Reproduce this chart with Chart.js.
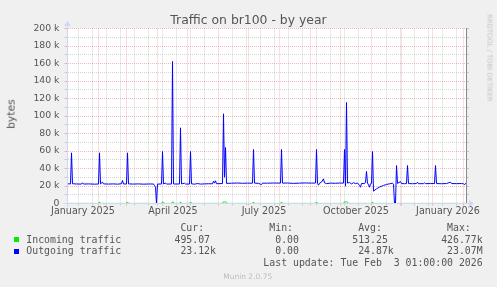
<!DOCTYPE html>
<html><head><meta charset="utf-8">
<script src="https://cdn.jsdelivr.net/npm/chart.js@4.4.1/dist/chart.umd.min.js"></script>
<style>
html,body{margin:0;padding:0;background:#f0f0f0;}
#wrap{position:relative;width:497px;height:287px;overflow:hidden;background:#f0f0f0;}
canvas{position:absolute;left:0;top:0;}
.t{position:absolute;white-space:pre;line-height:1;}
.sans{font-family:'DejaVu Sans',sans-serif;}
.mono{font-family:'DejaVu Sans Mono',monospace;font-size:9.85px;color:#555;left:26.3px;}
.box{position:absolute;width:5px;height:5px;left:14px;}
</style></head><body>
<div id="wrap">
<canvas id="c" width="497" height="287"></canvas>
<div class="t sans" id="title" style="left:248.5px;top:13.5px;font-size:12.4px;color:#555;transform:translateX(-50%);">Traffic on br100 - by year</div>
<div class="t sans" id="ytitle" style="left:11.5px;top:114px;font-size:10.8px;color:#555;transform:translate(-50%,-50%) rotate(-90deg);">bytes</div>
<div class="t sans" id="wm" style="left:488.5px;top:58.3px;font-size:6.8px;color:#c4c4c4;transform:translate(-50%,-50%) rotate(90deg);">RRDTOOL / TOBI OETIKER</div>
<div class="t mono" id="lh" style="top:223.4px;"></div>
<div class="box" style="top:237px;background:#00ee00;"></div>
<div class="t mono" id="l0" style="top:235px;"></div>
<div class="box" style="top:249px;background:#0000ff;"></div>
<div class="t mono" id="l1" style="top:246.4px;"></div>
<div class="t mono" id="lu" style="top:258.4px;"></div>
<div class="t sans" id="munin" style="left:247.7px;top:273px;font-size:7.5px;color:#bdbdbd;transform:translateX(-50%);">Munin 2.0.75</div>
</div>
<script>
// ---- data (x = days since 1 January 2025, y = bytes) ----
const outDays = [0,3,4,5,9,14,15,16,21,27,31,32,33,35,36,41,46,50,54,55,56,59,60,61,66,71,76,81,86,87,88,89,90,94,95,96,98,99,104,105,106,112,113,114,117,118,122,123,124,127,130,133,137,141,145,146,147,148,149,155,156,157,158,159,164,170,175,180,185,186,187,191,194,195,200,206,213,214,215,220,226,232,238,244,248,249,250,251,252,254,256,257,259,263,268,272,276,277,278,279,280,282,284,286,288,290,292,293,294,297,298,299,300,301,302,303,304,305,306,309,312,316,319,322,325,326,327,328,329,330,333,334,337,339,340,341,345,349,350,351,356,357,358,363,367,368,369,374,379,383,384,389,394,396,397,398,399];
const outBytes = [22500,22400,57900,22600,22300,22200,23700,22200,22400,22100,22300,57900,22500,24400,22400,22200,22400,22100,22600,26300,22300,22300,57900,22400,22200,22400,22100,22300,22300,20500,18600,0,22200,22300,59400,22400,23400,22200,22300,162300,22300,22300,86500,22400,23200,22300,22200,59400,22500,22100,22800,22200,22400,22600,22500,25500,23300,26000,22600,22800,102500,30000,64000,23000,23200,23400,23100,23300,23200,61700,23300,23000,21600,23300,23200,23400,23300,61700,23300,23400,23000,23300,23500,23300,23400,61700,23300,21000,23100,24400,28200,23600,22700,23300,23100,23400,23300,61700,19800,115400,23300,24000,22400,23800,22700,23400,20800,18600,23000,22600,24500,36600,23400,21400,18600,22600,23000,59400,14100,16800,18800,20600,21800,22500,23200,22000,0,0,43400,23000,25000,22800,22600,22800,43400,22800,22600,22800,24400,22600,22700,23600,22700,22800,22800,43400,22800,22600,22800,24400,22800,22700,22800,22600,21400,23000,23100];
const inDays = [0,31,32,33,59,60,61,94,95,96,97,104,105,106,107,112,113,114,122,123,124,155,156,157,158,159,160,185,186,187,213,214,215,248,249,250,276,277,278,279,280,281,304,305,306,399];
const inBytes = [100,100,1800,100,100,1800,100,100,1800,1400,100,100,2000,1400,100,100,1800,100,100,1800,100,100,2000,1800,2000,1400,100,100,1800,100,100,1800,100,100,1800,100,100,2000,1800,2000,1400,100,100,1800,100,100];

// ---- axes ----
const yTickValues = [0,10000,20000,30000,40000,50000,60000,70000,80000,90000,100000,110000,120000,130000,140000,150000,160000,170000,180000,190000,200000];
const yLabelValues = [0,20000,40000,60000,80000,100000,120000,140000,160000,180000,200000];
const yLabels = ['0','20 k','40 k','60 k','80 k','100 k','120 k','140 k','160 k','180 k','200 k'];
const monthStarts = [0,31,59,90,120,151,181,212,243,273,304,334,365,396];
const weekLines = [11,25,39,53,67,81,95,109,123,137,165,179,193,207,221,235,249,263,277,291,319,333,347,361,375,389];
const xLabelDays = [15.5,105.5,196.5,288.5,380.5];
const xLabels = ['January 2025','April 2025','July 2025','October 2025','January 2026'];

// ---- legend ----
const seriesNames = ['Incoming traffic','Outgoing traffic'];
const curValues = ['495.07 ',' 23.12k'];
const minValues = ['  0.00 ','  0.00 '];
const avgValues = ['513.25 ',' 24.87k'];
const maxValues = ['426.77k',' 23.07M'];
const lastUpdate = 'Last update: Tue Feb  3 01:00:00 2026';

const pad = (s,n) => s + ' '.repeat(Math.max(0,n - s.length));
document.getElementById('lh').textContent = pad('',25)+pad(' Cur:',15)+pad(' Min:',15)+pad(' Avg:',15)+' Max:';
for (let i=0;i<2;i++) {
  document.getElementById('l'+i).textContent = pad(seriesNames[i],25)+pad(curValues[i],15)+pad(minValues[i],15)+pad(avgValues[i],15)+maxValues[i];
}
document.getElementById('lu').textContent = pad('',40)+lastUpdate;

const MGRID = 'rgba(222,80,80,0.38)';
const GRID = 'rgba(143,143,143,0.38)';
const AXIS = '#CFD6F8';

const xTickValues = [...new Set([...monthStarts, ...weekLines, ...xLabelDays])].sort((a,b)=>a-b);
const xGridColor = v => monthStarts.includes(v) ? MGRID : (weekLines.includes(v) ? GRID : 'rgba(0,0,0,0)');

const bgPlugin = {
  id: 'bg',
  beforeDraw(chart) {
    const c = chart.ctx;
    c.save();
    c.fillStyle = '#ffffff';
    c.fillRect(67, 28, 400, 176);
    c.restore();
  },
  afterDatasetsDraw(chart) {
    const c = chart.ctx;
    const ys = chart.scales.y;
    c.save();
    c.lineWidth = 1;
    ys.ticks.forEach(t => {
      const y = Math.round(ys.getPixelForValue(t.value) - 0.5) + 0.5;
      c.strokeStyle = (t.value % 20000 === 0) ? MGRID : GRID;
      c.beginPath(); c.moveTo(467, y); c.lineTo(469, y); c.stroke();
    });
    c.strokeStyle = '#8a8a8a';
    c.beginPath(); c.moveTo(466.5, 28); c.lineTo(466.5, 204); c.stroke();
    c.strokeStyle = AXIS; c.fillStyle = AXIS;
    c.beginPath(); c.moveTo(63, 203.5); c.lineTo(471, 203.5); c.stroke();
    c.beginPath(); c.moveTo(67.5, 207); c.lineTo(67.5, 24); c.stroke();
    c.beginPath(); c.moveTo(469, 200); c.lineTo(469, 207); c.lineTo(474, 203.5); c.closePath(); c.fill();
    c.beginPath(); c.moveTo(64, 26); c.lineTo(71, 26); c.lineTo(67.5, 21); c.closePath(); c.fill();
    c.restore();
  }
};

new Chart(document.getElementById('c'), {
  type: 'line',
  data: {
    datasets: [
      { label: seriesNames[0], data: inDays.map((d,i)=>({x:d,y:inBytes[i]})), borderColor:'#00ee00', borderWidth:1, pointRadius:0, tension:0, fill:false, order:2 },
      { label: seriesNames[1], data: outDays.map((d,i)=>({x:d,y:outBytes[i]})), borderColor:'#0000ff', borderWidth:1, pointRadius:0, tension:0, fill:false, order:1 }
    ]
  },
  options: {
    responsive: false,
    devicePixelRatio: 1,
    animation: false,
    events: [],
    layout: { padding: { top: 28.5, right: 29.5, left: 0, bottom: 0 } },
    plugins: { legend: { display: false }, tooltip: { enabled: false }, title: { display: false } },
    scales: {
      x: {
        type: 'linear', min: 0, max: 400, bounds: 'data',
        afterBuildTicks: s => { s.ticks = xTickValues.map(v => ({ value: v })); },
        afterFit: s => { s.height = 83.5; },
        grid: { color: ctx => xGridColor(ctx.tick ? ctx.tick.value : -1), lineWidth: 1, drawTicks: true, tickLength: 2 },
        border: { display: false, dash: [1,1] },
        ticks: {
          autoSkip: false, maxRotation: 0, minRotation: 0, padding: 0,
          color: '#555', font: { family: 'DejaVu Sans', size: 9.6 },
          callback: v => { const i = xLabelDays.indexOf(v); return i >= 0 ? xLabels[i] : ''; }
        }
      },
      y: {
        type: 'linear', min: 0, max: 200000, bounds: 'data',
        afterBuildTicks: s => { s.ticks = yTickValues.map(v => ({ value: v })); },
        afterFit: s => { s.width = 67.5; },
        grid: { color: ctx => (ctx.tick && ctx.tick.value % 20000 === 0) ? MGRID : GRID, lineWidth: 1, drawTicks: true, tickLength: 3 },
        border: { display: false, dash: [1,1] },
        ticks: {
          autoSkip: false, padding: 5,
          color: '#555', font: { family: 'DejaVu Sans', size: 9.3 },
          callback: v => { const i = yLabelValues.indexOf(v); return i >= 0 ? yLabels[i] : ''; }
        }
      }
    }
  },
  plugins: [bgPlugin]
});
</script>
</body></html>
